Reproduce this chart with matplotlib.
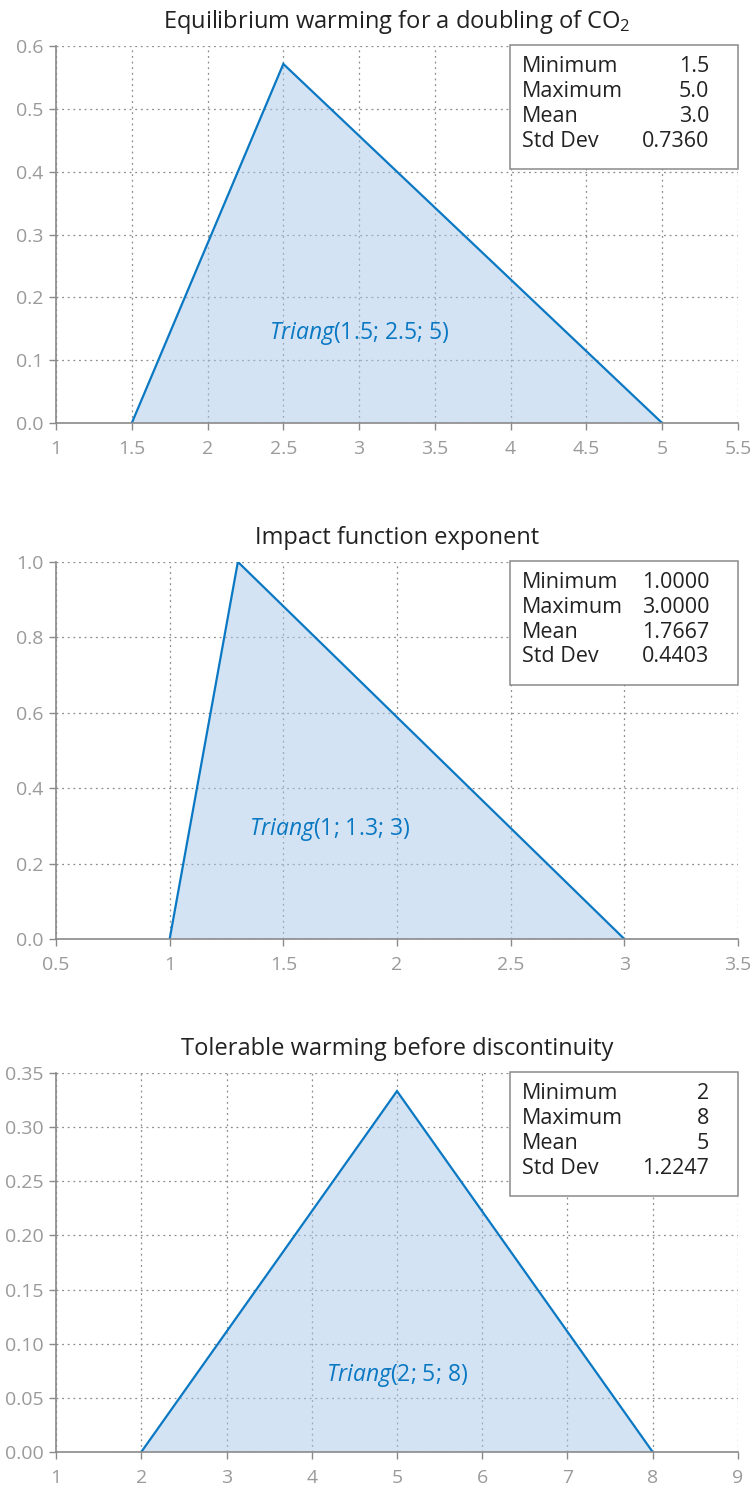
import matplotlib
matplotlib.use("Agg")
import matplotlib.pyplot as plt
from matplotlib.patches import Rectangle

plt.rcParams['font.family'] = ['Open Sans', 'DejaVu Sans']
plt.rcParams['mathtext.fontset'] = 'custom'
plt.rcParams['mathtext.rm'] = 'Open Sans'
plt.rcParams['mathtext.it'] = 'Open Sans:italic'

# ---- data ----
titles = ["Equilibrium warming for a doubling of CO$_2$",
          "Impact function exponent",
          "Tolerable warming before discontinuity"]
tri_x1 = [1.5, 2.5, 5.0]
tri_y1 = [0.0, 0.5714, 0.0]
tri_x2 = [1.0, 1.3, 3.0]
tri_y2 = [0.0, 1.0, 0.0]
tri_x3 = [2.0, 5.0, 8.0]
tri_y3 = [0.0, 0.3333, 0.0]
labels_params = ["(1.5; 2.5; 5)", "(1; 1.3; 3)", "(2; 5; 8)"]
label_pos = [(3.0, 0.143), (1.705, 0.289), (5.0, 0.071)]
stat_names = ["Minimum", "Maximum", "Mean", "Std Dev"]
stat_vals1 = ["1.5", "5.0", "3.0", "0.7360"]
stat_vals2 = ["1.0000", "3.0000", "1.7667", "0.4403"]
stat_vals3 = ["2", "8", "5", "1.2247"]
xticks1 = [1, 1.5, 2, 2.5, 3, 3.5, 4, 4.5, 5, 5.5]
xticklabels1 = ["1", "1.5", "2", "2.5", "3", "3.5", "4", "4.5", "5", "5.5"]
yticks1 = [0.0, 0.1, 0.2, 0.3, 0.4, 0.5, 0.6]
yticklabels1 = ["0.0", "0.1", "0.2", "0.3", "0.4", "0.5", "0.6"]
xticks2 = [0.5, 1, 1.5, 2, 2.5, 3, 3.5]
xticklabels2 = ["0.5", "1", "1.5", "2", "2.5", "3", "3.5"]
yticks2 = [0.0, 0.2, 0.4, 0.6, 0.8, 1.0]
yticklabels2 = ["0.0", "0.2", "0.4", "0.6", "0.8", "1.0"]
xticks3 = [1, 2, 3, 4, 5, 6, 7, 8, 9]
xticklabels3 = ["1", "2", "3", "4", "5", "6", "7", "8", "9"]
yticks3 = [0.0, 0.05, 0.10, 0.15, 0.20, 0.25, 0.30, 0.35]
yticklabels3 = ["0.00", "0.05", "0.10", "0.15", "0.20", "0.25", "0.30", "0.35"]

LINE = "#0a78c2"
FILL = "#a9c8e8"
GRID = "#8c8c8c"
TICK = "#9a9a9a"
AX = "#8a8a8a"
TXT = "#222222"
TICKFONT = ['Liberation Sans Narrow', 'Open Sans', 'DejaVu Sans']

fig = plt.figure(figsize=(7.51, 14.88), dpi=100)
left, width = 0.0746, 0.908
ax_specs = [
    (0.7157, 0.2534),
    (0.3690, 0.2534),
    (0.0242, 0.2547),
]

panels = [
    (tri_x1, tri_y1, xticks1, xticklabels1, yticks1, yticklabels1, stat_vals1, (1, 5.5), (0, 0.6)),
    (tri_x2, tri_y2, xticks2, xticklabels2, yticks2, yticklabels2, stat_vals2, (0.5, 3.5), (0, 1.0)),
    (tri_x3, tri_y3, xticks3, xticklabels3, yticks3, yticklabels3, stat_vals3, (1, 9), (0, 0.35)),
]

for i, (spec, p) in enumerate(zip(ax_specs, panels)):
    tx, ty, xt, xtl, yt, ytl, sv, xl, yl = p
    ax = fig.add_axes([left, spec[0], width, spec[1]])
    ax.set_xlim(*xl)
    ax.set_ylim(*yl)
    ax.fill(tx, ty, color=FILL, alpha=0.5, lw=0, zorder=3)
    ax.plot(tx, ty, color=LINE, lw=1.6, zorder=4, solid_joinstyle='miter')
    ax.set_xticks(xt)
    ax.set_xticklabels(xtl, family=TICKFONT)
    ax.set_yticks(yt)
    ax.set_yticklabels(ytl, family=TICKFONT)
    ax.grid(True, color=GRID, linestyle=(0, (1.5, 3)), lw=0.9, zorder=1)
    ax.set_axisbelow(True)
    for s in ['top', 'right']:
        ax.spines[s].set_visible(False)
    for s in ['left', 'bottom']:
        ax.spines[s].set_color(AX)
        ax.spines[s].set_linewidth(1.2)
        ax.spines[s].set_zorder(5)
    ax.tick_params(axis='both', colors=AX, labelcolor=TICK, labelsize=14,
                   length=5, width=1.0, direction='out')
    ax.tick_params(axis='x', pad=7)
    ax.tick_params(axis='y', pad=4)
    ax.set_title(titles[i], fontsize=17, color=TXT, pad=13)
    lx, ly = label_pos[i]
    ax.text(lx, ly, r"$\mathit{Triang}$" + labels_params[i], color=LINE,
            fontsize=16.5, ha='center', va='center', zorder=6)
    # stats box (sizes in pixels converted to axes fraction)
    hpx = spec[1] * 1488
    box_h = 123 / hpx
    bb = 1.0 - box_h
    ax.add_patch(Rectangle((0.666, bb), 0.334, box_h + 0.002, transform=ax.transAxes,
                           facecolor='white', edgecolor='#8a8a8a', lw=1.1,
                           zorder=7, clip_on=False))
    for j, (nm, v) in enumerate(zip(stat_names, sv)):
        yy = 1.0 - (21 + 24.7 * j) / hpx
        ax.text(0.683, yy, nm, transform=ax.transAxes, fontsize=15.5,
                color=TXT, ha='left', va='center', zorder=8)
        ax.text(0.958, yy, v, transform=ax.transAxes, fontsize=15.5,
                color=TXT, ha='right', va='center', zorder=8)

fig.savefig("out.png", dpi=100)
